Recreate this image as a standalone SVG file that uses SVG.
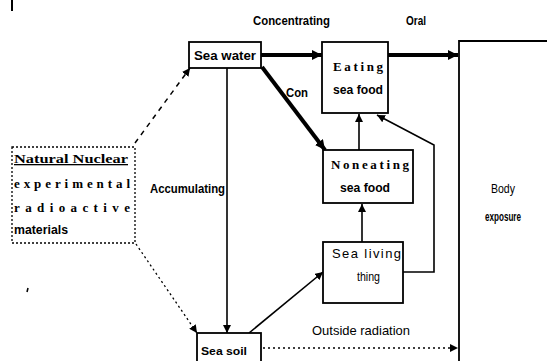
<svg xmlns="http://www.w3.org/2000/svg" width="547" height="361" viewBox="0 0 547 361">
<defs>
<marker id="ah" markerUnits="userSpaceOnUse" markerWidth="12" markerHeight="10" refX="10" refY="5" orient="auto">
<path d="M0,0 L10,5 L0,10 Z" fill="#000"/>
</marker>
<marker id="ahs" markerUnits="userSpaceOnUse" markerWidth="10" markerHeight="8" refX="8" refY="4" orient="auto">
<path d="M0,0 L8,4 L0,8 Z" fill="#000"/>
</marker>
</defs>
<style>
.box{fill:#fff;stroke:#000;stroke-width:1.8}
.t{font-family:"Liberation Sans",Arial,sans-serif;font-size:12px;font-weight:bold;fill:#000}
.n{font-family:"Liberation Sans",Arial,sans-serif;font-size:13px;font-weight:normal;fill:#000}
.s{font-family:"Liberation Serif","Times New Roman",serif;font-size:13px;font-weight:bold;fill:#000}
.thick{stroke:#000;stroke-width:4;fill:none}
.thin{stroke:#000;stroke-width:1.6;fill:none}
</style>
<rect width="547" height="361" fill="#fff"/>
<line x1="12" y1="0" x2="12" y2="11" stroke="#000" stroke-width="2"/>
<g id="connectors">
<line class="thick" x1="261" y1="55" x2="322" y2="55" marker-end="url(#ah)"/>
<line class="thick" x1="388" y1="55" x2="458" y2="55" marker-end="url(#ah)"/>
<line class="thick" x1="262" y1="67" x2="325" y2="150" marker-end="url(#ah)"/>
<line class="thin" x1="359" y1="150" x2="359" y2="114" marker-end="url(#ahs)"/>
<line class="thin" x1="362" y1="242" x2="362" y2="204" marker-end="url(#ahs)"/>
<polyline class="thin" points="403,272 434,272 434,145 377,115" marker-end="url(#ahs)"/>
<line class="thin" x1="227" y1="68" x2="227" y2="333" marker-end="url(#ahs)"/>
<line class="thin" x1="249" y1="333" x2="323" y2="272" marker-end="url(#ahs)"/>
<line stroke="#000" stroke-width="1.3" stroke-dasharray="2,3" x1="263" y1="348" x2="458" y2="348" marker-end="url(#ahs)"/>
<line stroke="#000" stroke-width="1.5" stroke-dasharray="5,5" x1="135" y1="143" x2="190" y2="68" marker-end="url(#ahs)"/>
<line stroke="#000" stroke-width="1.3" stroke-dasharray="2,3" x1="136" y1="244" x2="197" y2="333" marker-end="url(#ahs)"/>
<text class="t" x="253" y="25" textLength="77" lengthAdjust="spacingAndGlyphs">Concentrating</text>
<text class="t" x="406" y="25" textLength="20" lengthAdjust="spacingAndGlyphs">Oral</text>
<text class="t" x="286" y="97" textLength="22" lengthAdjust="spacingAndGlyphs">Con</text>
<text class="t" x="150" y="193" textLength="75" lengthAdjust="spacingAndGlyphs">Accumulating</text>
<text class="n" x="312" y="335" textLength="98" lengthAdjust="spacingAndGlyphs">Outside radiation</text>
</g>
<g id="sea-water">
<rect class="box" x="189" y="42" width="72" height="26"/>
<text class="t" x="194" y="60" textLength="62" lengthAdjust="spacingAndGlyphs">Sea water</text>
</g>
<g id="eating">
<rect class="box" x="322" y="42" width="66" height="71"/>
<text class="s" x="333" y="71" textLength="50" lengthAdjust="spacing">Eating</text>
<text class="t" x="333" y="94" textLength="50" lengthAdjust="spacingAndGlyphs">sea food</text>
</g>
<g id="noneating">
<rect class="box" x="323" y="150" width="90" height="53"/>
<text class="s" x="331" y="169" textLength="78" lengthAdjust="spacing">Noneating</text>
<text class="t" x="340" y="192" textLength="50" lengthAdjust="spacingAndGlyphs">sea food</text>
</g>
<g id="sea-living">
<rect class="box" x="323" y="242" width="80" height="61"/>
<text class="n" x="332" y="258" textLength="69" lengthAdjust="spacing">Sea living</text>
<text class="n" x="357" y="281" textLength="23" lengthAdjust="spacingAndGlyphs">thing</text>
</g>
<g id="sea-soil">
<rect class="box" x="197" y="333" width="64" height="32"/>
<text class="t" x="201" y="355" style="font-size:11px" textLength="46" lengthAdjust="spacingAndGlyphs">Sea soil</text>
</g>
<g id="body">
<polyline fill="none" stroke="#000" stroke-width="1.8" points="459,361 459,41 547,41"/>
<text class="n" x="491" y="193" textLength="24" lengthAdjust="spacingAndGlyphs">Body</text>
<text class="t" x="485" y="221" style="font-size:13px" textLength="36" lengthAdjust="spacingAndGlyphs">exposure</text>
</g>
<g id="natural">
<rect x="12" y="147" width="123" height="96" fill="#fff" stroke="#000" stroke-width="1.3" stroke-dasharray="2,2"/>
<text class="s" x="14" y="163" textLength="114" lengthAdjust="spacingAndGlyphs" text-decoration="underline">Natural Nuclear</text>
<text class="s" x="14" y="188" textLength="116" lengthAdjust="spacing">experimental</text>
<text class="s" x="14" y="212" textLength="116" lengthAdjust="spacing">radioactive</text>
<text class="t" x="14" y="234" textLength="54" lengthAdjust="spacingAndGlyphs">materials</text>
</g>
<line x1="28" y1="288" x2="27" y2="292" stroke="#000" stroke-width="1.5"/>
</svg>
